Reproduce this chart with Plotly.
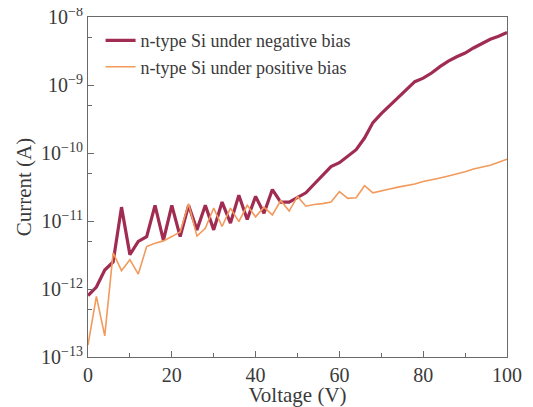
import plotly.graph_objects as go

voltage = list(range(0, 101, 2))

neg_bias = [8e-13, 1.07e-12, 1.9e-12, 2.5e-12, 1.6e-11, 3.2e-12, 5e-12, 5.9e-12, 1.7e-11, 5.2e-12,
            1.7e-11, 5.9e-12, 1.7e-11, 7.4e-12, 1.7e-11, 7.4e-12, 1.9e-11, 9.3e-12, 2.4e-11, 1.05e-11,
            2.3e-11, 1.3e-11, 2.9e-11, 1.9e-11, 1.9e-11, 2.2e-11, 2.6e-11, 3.5e-11, 4.7e-11, 6.3e-11,
            7.2e-11, 8.9e-11, 1.12e-10, 1.66e-10, 2.8e-10, 3.8e-10, 5.0e-10, 6.5e-10, 8.5e-10, 1.12e-9,
            1.26e-9, 1.5e-9, 1.86e-9, 2.24e-9, 2.6e-9, 2.95e-9, 3.5e-9, 4.1e-9, 4.7e-9, 5.2e-9, 5.9e-9]

pos_bias = [1.5e-13, 7.8e-13, 2.05e-13, 3.4e-12, 1.86e-12, 2.7e-12, 1.66e-12, 4.2e-12, 4.7e-12, 5.1e-12,
            5.9e-12, 6.9e-12, 1.8e-11, 6e-12, 7.8e-12, 1.55e-11, 8.3e-12, 1.55e-11, 9.8e-12, 1.7e-11,
            1.15e-11, 1.6e-11, 1.23e-11, 2e-11, 1.4e-11, 2.3e-11, 1.65e-11, 1.75e-11, 1.8e-11, 1.9e-11,
            2.7e-11, 2.15e-11, 2.2e-11, 3.3e-11, 2.6e-11, 2.8e-11, 2.95e-11, 3.15e-11, 3.3e-11, 3.5e-11,
            3.8e-11, 4.0e-11, 4.3e-11, 4.6e-11, 4.9e-11, 5.3e-11, 5.8e-11, 6.2e-11, 6.6e-11, 7.3e-11, 8.1e-11]

series_names = ["n-type Si under negative bias", "n-type Si under positive bias"]
x_ticks = [0, 20, 40, 60, 80, 100]
y_major = [1e-13, 1e-12, 1e-11, 1e-10, 1e-9, 1e-8]
y_major_text = ["10<sup>−13</sup>", "10<sup>−12</sup>", "10<sup>−11</sup>",
                "10<sup>−10</sup>", "10<sup>−9</sup>", "10<sup>−8</sup>"]
y_minor = [5e-13, 5e-12, 5e-11, 5e-10, 5e-9]

FONT = "Liberation Serif"
TXT = "#3a3a3a"
AX = "#6a6a6a"

fig = go.Figure()
fig.add_trace(go.Scatter(x=voltage, y=neg_bias, mode="lines", name=series_names[0],
                         legendgroup="a",
                         line=dict(color="#a02c52", width=3.2)))
fig.add_trace(go.Scatter(x=voltage, y=pos_bias, mode="lines", name=series_names[1],
                         legendgroup="b",
                         line=dict(color="#f29a5c", width=1.6)))

fig.update_layout(
    width=525, height=399,
    margin=dict(l=80, r=26, t=9, b=50),
    paper_bgcolor="white", plot_bgcolor="white",
    font=dict(family=FONT, color=TXT, size=20),
    showlegend=True,
    legend=dict(x=0.03, y=0.985, xanchor="left", yanchor="top",
                bgcolor="rgba(0,0,0,0)", font=dict(family=FONT, size=18, color=TXT),
                tracegroupgap=6, traceorder="normal"),
    xaxis=dict(range=[0, 100], tickvals=x_ticks, ticks="inside", ticklen=6, tickcolor=AX,
               showline=True, linecolor=AX, linewidth=1, mirror=True, showgrid=False, zeroline=False,
               automargin=False,
               minor=dict(dtick=10, ticks="inside", ticklen=4, tickcolor=AX),
               title=dict(text="Voltage (V)", font=dict(size=21, family=FONT, color=TXT), standoff=2),
               tickfont=dict(size=20, family=FONT, color=TXT)),
    yaxis=dict(type="log", range=[-13, -8], tickvals=y_major, ticktext=y_major_text,
               ticks="inside", ticklen=6, tickcolor=AX, automargin=False,
               ticklabeloverflow="allow",
               showline=True, linecolor=AX, linewidth=1, mirror=True, showgrid=False, zeroline=False,
               minor=dict(tickvals=y_minor, ticks="inside", ticklen=4, tickcolor=AX),
               title=dict(text="Current (A)", font=dict(size=21, family=FONT, color=TXT), standoff=3),
               tickfont=dict(size=20, family=FONT, color=TXT)),
)

fig.write_html("out.html")
